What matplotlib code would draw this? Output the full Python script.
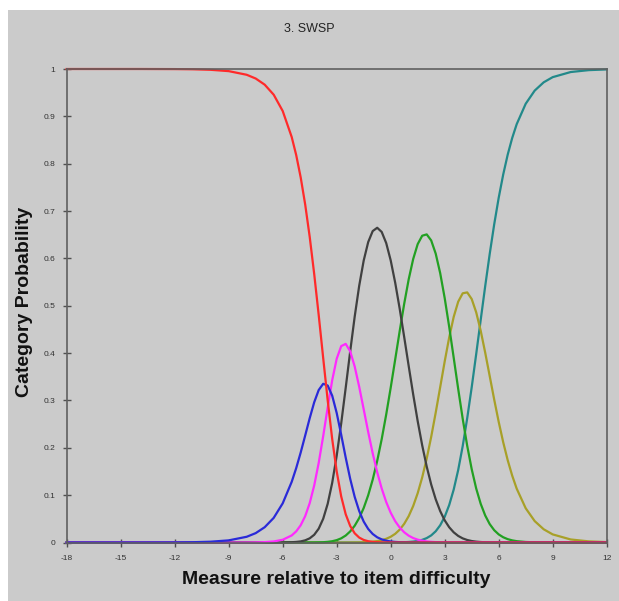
import numpy as np
import matplotlib
matplotlib.use("Agg")
import matplotlib.pyplot as plt
from matplotlib.patches import Rectangle

plt.rcParams['font.family'] = ['Liberation Sans', 'DejaVu Sans']

# measure relative to item difficulty (logits)
measure = [-18, -14, -12, -11, -10, -9, -8, -7.5, -7, -6.5, -6, -5.5,
           -5.25, -5, -4.75, -4.5, -4.25, -4, -3.75, -3.5, -3.25, -3, -2.75, -2.5,
           -2.25, -2, -1.75, -1.5, -1.25, -1, -0.75, -0.5, -0.25, 0, 0.25, 0.5,
           0.75, 1, 1.25, 1.5, 1.75, 2, 2.25, 2.5, 2.75, 3, 3.25, 3.5,
           3.75, 4, 4.25, 4.5, 4.75, 5, 5.25, 5.5, 5.75, 6, 6.25, 6.5,
           6.75, 7, 7.5, 8, 8.5, 9, 10, 11, 12]

# category probability curves
cat0 = [1.0, 1.0, 0.9998, 0.9994, 0.9983, 0.9955, 0.9878, 0.9799, 0.9669, 0.9457, 0.9113, 0.8564,
        0.8182, 0.7710, 0.7137, 0.6456, 0.5671, 0.4804, 0.3894, 0.3000, 0.2185, 0.1501, 0.0973, 0.0597,
        0.0348, 0.0194, 0.0104, 0.0054, 0.0027, 0.0013, 0.0006, 0.0003, 0.0001, 0.0001, 0, 0,
        0, 0, 0, 0, 0, 0, 0, 0, 0, 0, 0, 0,
        0, 0, 0, 0, 0, 0, 0, 0, 0, 0, 0, 0,
        0, 0, 0, 0, 0, 0, 0, 0, 0]
cat1 = [0, 0, 0.0002, 0.0006, 0.0017, 0.0045, 0.0121, 0.0198, 0.0323, 0.0520, 0.0827, 0.1281,
        0.1571, 0.1901, 0.2260, 0.2625, 0.2961, 0.3220, 0.3352, 0.3315, 0.3101, 0.2735, 0.2276, 0.1793,
        0.1344, 0.0963, 0.0664, 0.0442, 0.0286, 0.0180, 0.0110, 0.0066, 0.0039, 0.0022, 0.0012, 0.0007,
        0.0004, 0.0002, 0.0001, 0, 0, 0, 0, 0, 0, 0, 0, 0,
        0, 0, 0, 0, 0, 0, 0, 0, 0, 0, 0, 0,
        0, 0, 0, 0, 0, 0, 0, 0, 0]
cat2 = [0, 0, 0, 0, 0, 0, 0.0001, 0.0003, 0.0008, 0.0022, 0.0058, 0.0149,
        0.0235, 0.0365, 0.0557, 0.0831, 0.1204, 0.1681, 0.2247, 0.2854, 0.3427, 0.3881, 0.4147, 0.4195,
        0.4037, 0.3716, 0.3289, 0.2813, 0.2334, 0.1884, 0.1483, 0.1140, 0.0856, 0.0628, 0.0450, 0.0316,
        0.0216, 0.0144, 0.0094, 0.0060, 0.0038, 0.0023, 0.0014, 0.0008, 0.0004, 0.0002, 0.0001, 0.0001,
        0, 0, 0, 0, 0, 0, 0, 0, 0, 0, 0, 0,
        0, 0, 0, 0, 0, 0, 0, 0, 0]
cat3 = [0, 0, 0, 0, 0, 0, 0, 0, 0, 0, 0.0001, 0.0006,
        0.0012, 0.0023, 0.0046, 0.0088, 0.0163, 0.0292, 0.0501, 0.0818, 0.1261, 0.1833, 0.2515, 0.3267,
        0.4037, 0.4771, 0.5422, 0.5955, 0.6345, 0.6577, 0.6647, 0.6559, 0.6324, 0.5958, 0.5486, 0.4936,
        0.4339, 0.3726, 0.3126, 0.2562, 0.2052, 0.1605, 0.1225, 0.0913, 0.0663, 0.0468, 0.0322, 0.0215,
        0.0139, 0.0087, 0.0053, 0.0031, 0.0018, 0.0010, 0.0005, 0.0003, 0.0001, 0.0001, 0, 0,
        0, 0, 0, 0, 0, 0, 0, 0, 0]
cat4 = [0, 0, 0, 0, 0, 0, 0, 0, 0, 0, 0, 0,
        0, 0, 0, 0.0001, 0.0001, 0.0003, 0.0006, 0.0014, 0.0027, 0.0050, 0.0088, 0.0147,
        0.0234, 0.0354, 0.0517, 0.0729, 0.0998, 0.1328, 0.1723, 0.2183, 0.2703, 0.3270, 0.3866, 0.4467,
        0.5042, 0.5559, 0.5988, 0.6302, 0.6479, 0.6507, 0.6379, 0.6101, 0.5688, 0.5161, 0.4554, 0.3902,
        0.3243, 0.2614, 0.2043, 0.1549, 0.1140, 0.0817, 0.0571, 0.0389, 0.0260, 0.0171, 0.0111, 0.0071,
        0.0045, 0.0028, 0.0011, 0.0004, 0.0002, 0.0001, 0, 0, 0]
cat5 = [0, 0, 0, 0, 0, 0, 0, 0, 0, 0, 0, 0,
        0, 0, 0, 0, 0, 0, 0, 0, 0, 0, 0, 0,
        0.0001, 0.0002, 0.0003, 0.0006, 0.0011, 0.0018, 0.0030, 0.0049, 0.0078, 0.0121, 0.0183, 0.0272,
        0.0394, 0.0557, 0.0771, 0.1042, 0.1375, 0.1773, 0.2232, 0.2742, 0.3282, 0.3824, 0.4332, 0.4765,
        0.5086, 0.5263, 0.5282, 0.5142, 0.4861, 0.4472, 0.4010, 0.3515, 0.3019, 0.2548, 0.2118, 0.1738,
        0.1412, 0.1137, 0.0723, 0.0452, 0.0279, 0.0171, 0.0064, 0.0024, 0.0009]
cat6 = [0, 0, 0, 0, 0, 0, 0, 0, 0, 0, 0, 0,
        0, 0, 0, 0, 0, 0, 0, 0, 0, 0, 0, 0,
        0, 0, 0, 0, 0, 0, 0, 0, 0, 0.0001, 0.0002, 0.0003,
        0.0006, 0.0011, 0.0019, 0.0033, 0.0056, 0.0093, 0.0150, 0.0237, 0.0364, 0.0544, 0.0791, 0.1118,
        0.1532, 0.2036, 0.2623, 0.3278, 0.3980, 0.4701, 0.5414, 0.6093, 0.6719, 0.7280, 0.7771, 0.8191,
        0.8543, 0.8835, 0.9266, 0.9544, 0.9719, 0.9828, 0.9936, 0.9976, 0.9991]

curves = [cat0, cat1, cat2, cat3, cat4, cat5, cat6]
colors = ['#ff2a2a', '#2a2ad8', '#ff2aff', '#404040', '#22a022', '#a8a028', '#22898a']

xticks = [-18, -15, -12, -9, -6, -3, 0, 3, 6, 9, 12]
yticks = [0, 0.1, 0.2, 0.3, 0.4, 0.5, 0.6, 0.7, 0.8, 0.9, 1]
ylabels = ['0', '0.1', '0.2', '0.3', '0.4', '0.5', '0.6', '0.7', '0.8', '0.9', '1']

W, H = 619, 601
bg = '#cbcbcb'

fig = plt.figure(figsize=(W / 100, H / 100), dpi=100)
fig.patch.set_facecolor('white')
fig.patches.append(Rectangle((8 / W, 0), 1, (H - 10) / H, transform=fig.transFigure,
                             facecolor=bg, edgecolor='none', zorder=-10))

ax = fig.add_axes([66.7 / W, (H - 542.5) / H, 540 / W, 473.5 / H])
ax.set_facecolor(bg)

# draw last category first so red ends up on top
for ys, col in reversed(list(zip(curves, colors))):
    ax.plot(measure, ys, color=col, lw=1.6, clip_on=False, solid_joinstyle='round')

ax.set_xlim(-18, 12)
ax.set_ylim(0, 1)
ax.set_xticks(xticks)
ax.set_xticklabels([str(v) for v in xticks])
ax.set_yticks(yticks)
ax.set_yticklabels(ylabels)
ax.tick_params(direction='inout', length=6, width=1, color='#505050',
               labelsize=6, labelcolor='#333333')
ax.tick_params(axis='x', pad=6)
ax.tick_params(axis='y', pad=5)
for sp in ax.spines.values():
    sp.set_color('#606060')
    sp.set_linewidth(1.2)

fig.text(309 / W, 1 - 29 / H, '3. SWSP', ha='center', va='center',
         fontsize=9, color='#222222')
fig.text(336.7 / W, 1 - 580 / H, 'Measure relative to item difficulty',
         ha='center', va='center', fontsize=14, fontweight='bold', color='#111111')
fig.text(25 / W, 1 - 302 / H, 'Category Probability', rotation=90,
         ha='center', va='center', fontsize=14, fontweight='bold', color='#111111')

fig.savefig('out.png', dpi=100, facecolor=fig.get_facecolor())
